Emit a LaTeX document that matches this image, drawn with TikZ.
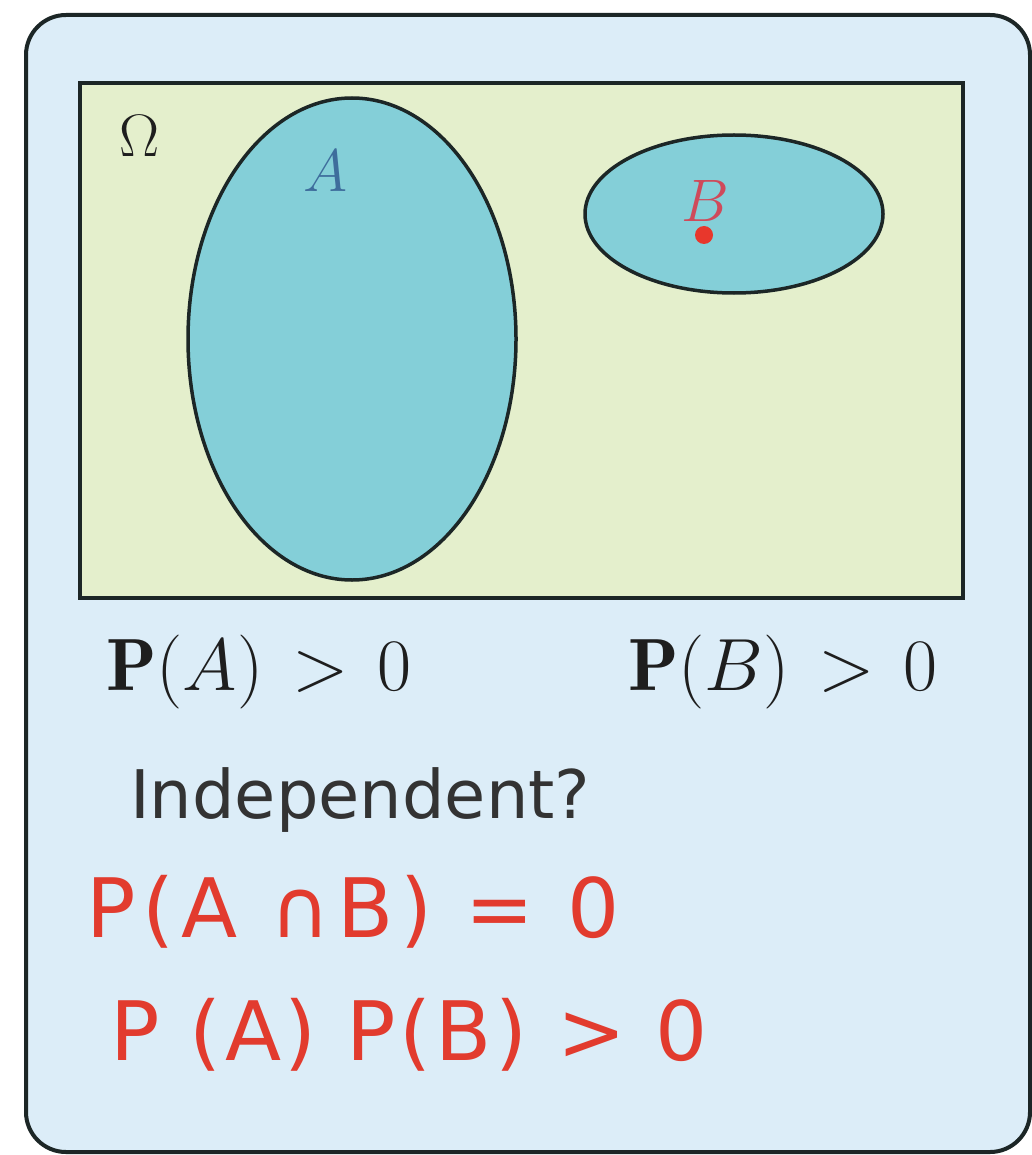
\RequirePackage{fix-cm}
\documentclass[tikz,border=0pt]{standalone}
\usepackage{fontspec}
\usetikzlibrary{shapes.geometric}
\newfontfamily\sansdv{DejaVu Sans}
\newfontfamily\handa[LetterSpace=8.5]{DejaVu Sans}
\newfontfamily\handb[LetterSpace=4.5]{DejaVu Sans}
\definecolor{boxblue}{HTML}{DCEDF8}
\definecolor{omegafill}{HTML}{E4EFCC}
\definecolor{setfill}{HTML}{84CFD8}
\definecolor{edge}{HTML}{1C2626}
\definecolor{alabel}{HTML}{3E6D9C}
\definecolor{blabel}{HTML}{CF4A5A}
\definecolor{dotred}{HTML}{E8372C}
\definecolor{penred}{HTML}{E23B2E}
\definecolor{textdark}{HTML}{1E1E1E}
\definecolor{textgray}{HTML}{333333}
\tikzset{
  outerbox/.style={draw=edge, line width=4pt, fill=boxblue, rounded corners=40pt},
  omegabox/.style={draw=edge, line width=4pt, fill=omegafill, rectangle, inner sep=0pt},
  setshape/.style={draw=edge, line width=3.5pt, fill=setfill, ellipse, inner sep=0pt},
  mathlabel/.style={font=\fontsize{60}{72}\selectfont, inner sep=0pt},
  probtext/.style={font=\fontsize{74}{88}\selectfont, text=textdark, inner sep=0pt, anchor=base west},
  questext/.style={font=\sansdv\fontsize{67}{80}\selectfont, text=textgray, inner sep=0pt, anchor=base west},
  handtext/.style={text=penred, inner sep=0pt, anchor=base west},
}
\begin{document}
\begin{tikzpicture}[x=1pt,y=-1pt]
\useasboundingbox (0,0) rectangle (1032,1155);
\fill[white] (0,0) rectangle (1032,1155);
\draw[outerbox] (26,15) rectangle (1030,1152);
\node[omegabox, minimum width=883pt, minimum height=515pt] (omega) at (521.5,340.5) {};
\node[setshape, minimum width=328pt, minimum height=482pt] (setA) at (352,339) {};
\node[setshape, minimum width=298pt, minimum height=158pt] (setB) at (734,214) {};
\node[mathlabel, text=textdark] (omegalabel) at (140,136) {$\Omega$};
\node[mathlabel, text=alabel] (alab) at (326,171) {$A$};
\node[mathlabel, text=blabel] (blab) at (705,201) {$B$};
\node[circle, fill=dotred, minimum size=18pt, inner sep=0pt] (dot) at (704,235) {};
\node[probtext] (pa) at (106,690) {$\mathbf{P}(A)\mskip2mu>\mskip2mu0$};
\node[probtext] (pb) at (628,690) {$\mathbf{P}(B)\mskip2mu>\mskip2mu0$};
\node[questext] (indep) at (130,818) {Independent?};
\node[handtext, font=\handa\fontsize{82}{96}\selectfont] (hand1) at (86,937) {P(A ∩B) = 0};
\node[handtext, font=\handb\fontsize{82}{96}\selectfont] (hand2) at (110,1060) {P (A) P(B) > 0};
\end{tikzpicture}
\end{document}
